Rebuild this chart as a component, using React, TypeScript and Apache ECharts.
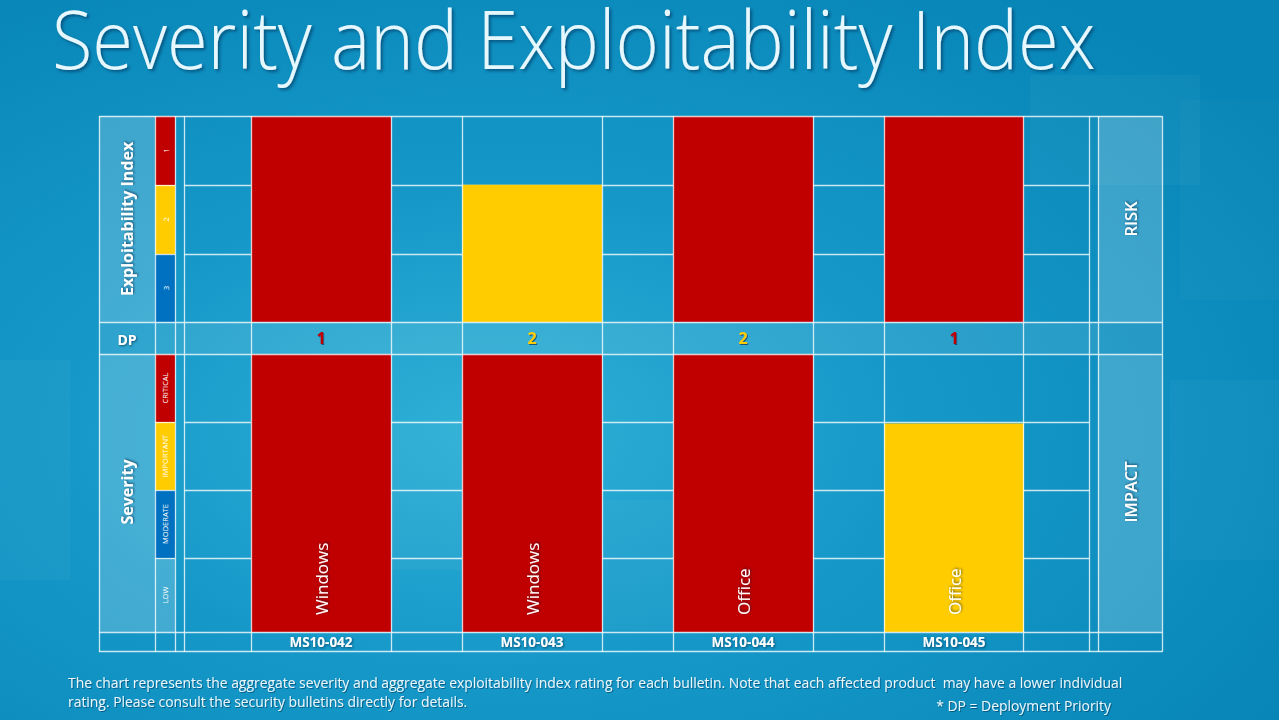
import React, { useEffect, useRef } from 'react';
import * as echarts from 'echarts';

// ---- data ----
const bulletins = ['MS10-042', 'MS10-043', 'MS10-044', 'MS10-045'];
const products = ['Windows', 'Windows', 'Office', 'Office'];
const exploitIndex = [1, 2, 1, 1];
const severityRating = ['CRITICAL', 'CRITICAL', 'CRITICAL', 'IMPORTANT'];
const deploymentPriority = [1, 2, 2, 1];
const exploitLevels = ['1', '2', '3'];
const severityLevels = ['CRITICAL', 'IMPORTANT', 'MODERATE', 'LOW'];

const TITLE = 'Severity and Exploitability Index';
const NOTE1 =
  'The chart represents the aggregate severity and aggregate exploitability index rating for each bulletin. Note that each affected product  may have a lower individual';
const NOTE2 = 'rating. Please consult the security bulletins directly for details.';
const NOTE3 = '* DP = Deployment Priority';

// ---- styles ----
const RED = '#c00000';
const YELLOW = '#ffcc00';
const BLUE = '#0070c0';
const PALE = 'rgba(255,255,255,0.2)';
const levelColors = [RED, YELLOW, BLUE, PALE];
const dpColors = [RED, YELLOW, BLUE];
const FONT = "'Open Sans', 'Noto Sans', sans-serif";
const LINE = 'rgba(255,255,255,0.78)';
const SHADOW = { textShadowColor: 'rgba(0,30,60,0.6)', textShadowBlur: 2, textShadowOffsetX: 1, textShadowOffsetY: 1 };

// layout
const L = 99, R = 1162;
const TOP = 116, DP_T = 322, DP_B = 354, SEV_B = 632, BOT = 651;
const colX = [99, 155, 175, 184, 251, 391, 462, 602, 673, 813, 884, 1023, 1089, 1098, 1162];
const exRows = [116, 185, 254, 322];
const sevRows = [354, 422, 490, 558, 632];

function buildGraphic() {
  const g: any[] = [];
  // decorative background squares
  const deco = [
    [1030, 75, 170, 110, 0.035], [1180, 100, 99, 200, 0.025], [0, 360, 70, 220, 0.03],
    [330, 420, 160, 150, 0.04], [560, 500, 200, 130, 0.03], [1170, 380, 109, 180, 0.03],
  ];
  deco.forEach(([x, y, w, h, a]) =>
    g.push({ type: 'rect', z: 0, shape: { x, y, width: w, height: h }, style: { fill: `rgba(255,255,255,${a})` } })
  );
  // label column fills
  const fills = [
    [L, TOP, 56, DP_T - TOP], [L, DP_B, 56, SEV_B - DP_B],
    [1098, TOP, 64, DP_T - TOP], [1098, DP_B, 64, SEV_B - DP_B],
    [L, DP_T, R - L, DP_B - DP_T],
  ];
  fills.forEach(([x, y, w, h], i) =>
    g.push({ type: 'rect', z: 0, shape: { x, y, width: w, height: h }, style: { fill: i === 4 ? 'rgba(255,255,255,0.1)' : 'rgba(255,255,255,0.2)' } })
  );
  // legend cells
  exploitLevels.forEach((lv, i) => {
    const y0 = exRows[i], y1 = exRows[i + 1];
    g.push({ type: 'rect', z: 1, shape: { x: 155, y: y0, width: 20, height: y1 - y0 }, style: { fill: levelColors[i] } });
    g.push({ type: 'text', z: 6, x: 165, y: (y0 + y1) / 2, rotation: Math.PI / 2,
      style: { text: lv, fill: '#fff', fontSize: 8, fontFamily: FONT, align: 'center', verticalAlign: 'middle' } });
  });
  severityLevels.forEach((lv, i) => {
    const y0 = sevRows[i], y1 = sevRows[i + 1];
    g.push({ type: 'rect', z: 1, shape: { x: 155, y: y0, width: 20, height: y1 - y0 }, style: { fill: levelColors[i] } });
    g.push({ type: 'text', z: 6, x: 165, y: (y0 + y1) / 2, rotation: Math.PI / 2,
      style: { text: lv, fill: '#fff', fontSize: 7.5, fontFamily: FONT, align: 'center', verticalAlign: 'middle' } });
  });
  // horizontal lines
  const hl = (x1: number, x2: number, y: number, z = 1) =>
    g.push({ type: 'line', z, shape: { x1, y1: y + 0.5, x2, y2: y + 0.5 }, style: { stroke: LINE, lineWidth: 1.3 } });
  [TOP, DP_T, DP_B, SEV_B, BOT].forEach((y) => hl(L, R, y, 4));
  [185, 254, 422, 490, 558].forEach((y) => hl(184, 1089, y, 1));
  [185, 254, 422, 490, 558].forEach((y) => hl(155, 175, y, 2));
  // vertical lines
  colX.forEach((x) =>
    g.push({ type: 'line', z: 4, shape: { x1: x + 0.5, y1: TOP, x2: x + 0.5, y2: BOT + 1 }, style: { stroke: LINE, lineWidth: 1.3 } })
  );
  // side labels
  const vt = (text: string, x: number, y: number, size: number, weight: any = 'bold') =>
    g.push({ type: 'text', z: 6, x, y, rotation: Math.PI / 2,
      style: { text, fill: '#fff', fontSize: size, fontWeight: weight, fontFamily: FONT, align: 'center', verticalAlign: 'middle', ...SHADOW } });
  vt('Exploitability Index', 127, 219, 16);
  vt('Severity', 127, 492, 16);
  vt('RISK', 1130, 219, 16.5, 600);
  vt('IMPACT', 1130, 492, 16.5, 600);
  g.push({ type: 'text', z: 6, x: 127, y: 339,
    style: { text: 'DP', fill: '#fff', fontSize: 14, fontWeight: 'bold', fontFamily: FONT, align: 'center', verticalAlign: 'middle', ...SHADOW } });
  // title
  g.push({ type: 'text', z: 6, x: 52, y: 38, scaleY: 1.1,
    style: { text: TITLE, fill: '#e6f7fd', fontSize: 74, lineHeight: 64, fontWeight: 300, fontFamily: FONT, align: 'left', verticalAlign: 'middle',
      textShadowColor: 'rgba(0,40,80,0.55)', textShadowBlur: 3, textShadowOffsetX: 2, textShadowOffsetY: 2 } });
  // notes
  const note = (text: string, x: number, y: number, align = 'left') =>
    g.push({ type: 'text', z: 6, x, y,
      style: { text, fill: '#eaf7fc', fontSize: 13.9, fontFamily: FONT, align, verticalAlign: 'middle', textShadowColor: 'rgba(0,40,80,0.5)', textShadowBlur: 1, textShadowOffsetX: 1, textShadowOffsetY: 1 } });
  note(NOTE1, 68, 682);
  note(NOTE2, 68, 701);
  note(NOTE3, 1111, 705, 'right');
  return g;
}

const exploitValues = exploitIndex.map((ix) => exploitLevels.length + 1 - ix);
const severityValues = severityRating.map((r) => severityLevels.length - severityLevels.indexOf(r));

const GRID_LEFT = 215.5, GRID_W = 844;

const option: any = {
  animation: false,
  backgroundColor: {
    type: 'radial', x: 0.38, y: 0.6, r: 0.75,
    colorStops: [
      { offset: 0, color: '#2eb0d6' },
      { offset: 0.45, color: '#1598c8' },
      { offset: 1, color: '#0685b6' },
    ],
  },
  grid: [
    { left: GRID_LEFT, width: GRID_W, top: TOP, height: DP_T - TOP },
    { left: GRID_LEFT, width: GRID_W, top: DP_B, height: SEV_B - DP_B },
  ],
  xAxis: [
    {
      type: 'category', gridIndex: 0, data: bulletins,
      axisLine: { show: false }, axisTick: { show: false }, splitLine: { show: false },
      axisLabel: {
        margin: 8, interval: 0,
        formatter: (_v: string, i: number) => `{d${deploymentPriority[i]}|${deploymentPriority[i]}}`,
        rich: Object.fromEntries(
          [1, 2, 3].map((p) => [`d${p}`, { color: dpColors[p - 1], fontSize: 16, fontWeight: 'bold', fontFamily: FONT,
            textShadowColor: 'rgba(0,30,60,0.6)', textShadowBlur: 1, textShadowOffsetX: 1, textShadowOffsetY: 1 }])
        ),
      },
    },
    {
      type: 'category', gridIndex: 1, data: bulletins,
      axisLine: { show: false }, axisTick: { show: false }, splitLine: { show: false },
      axisLabel: { margin: 3, interval: 0, color: '#fff', fontSize: 13.5, fontWeight: 'bold', fontFamily: FONT, ...SHADOW },
    },
  ],
  yAxis: [
    { type: 'value', gridIndex: 0, min: 0, max: exploitLevels.length, show: false, splitLine: { show: false } },
    { type: 'value', gridIndex: 1, min: 0, max: severityLevels.length, show: false, splitLine: { show: false } },
  ],
  series: [
    {
      type: 'bar', name: 'Exploitability Index', xAxisIndex: 0, yAxisIndex: 0, barWidth: 140,
      data: exploitValues.map((v, i) => ({ value: v, itemStyle: { color: levelColors[exploitIndex[i] - 1] } })),
    },
    {
      type: 'bar', name: 'Severity', xAxisIndex: 1, yAxisIndex: 1, barWidth: 140,
      data: severityValues.map((v, i) => ({
        value: v,
        itemStyle: { color: levelColors[severityLevels.indexOf(severityRating[i])] },
        label: { formatter: products[i] },
      })),
      label: {
        show: true, position: 'insideBottom', rotate: 90, distance: 20, align: 'left', verticalAlign: 'middle',
        offset: [-3, 0], color: '#fff', fontSize: 17, fontFamily: FONT, ...SHADOW,
      },
    },
  ],
  graphic: { elements: buildGraphic() },
};

export default function App() {
  const ref = useRef<HTMLDivElement>(null);
  useEffect(() => {
    const chart = echarts.init(ref.current!, null, { renderer: 'svg' });
    chart.setOption(option);
    return () => chart.dispose();
  }, []);
  return <div ref={ref} style={{ position: 'absolute', left: 0, top: 0, width: 1279, height: 720 }} />;
}
